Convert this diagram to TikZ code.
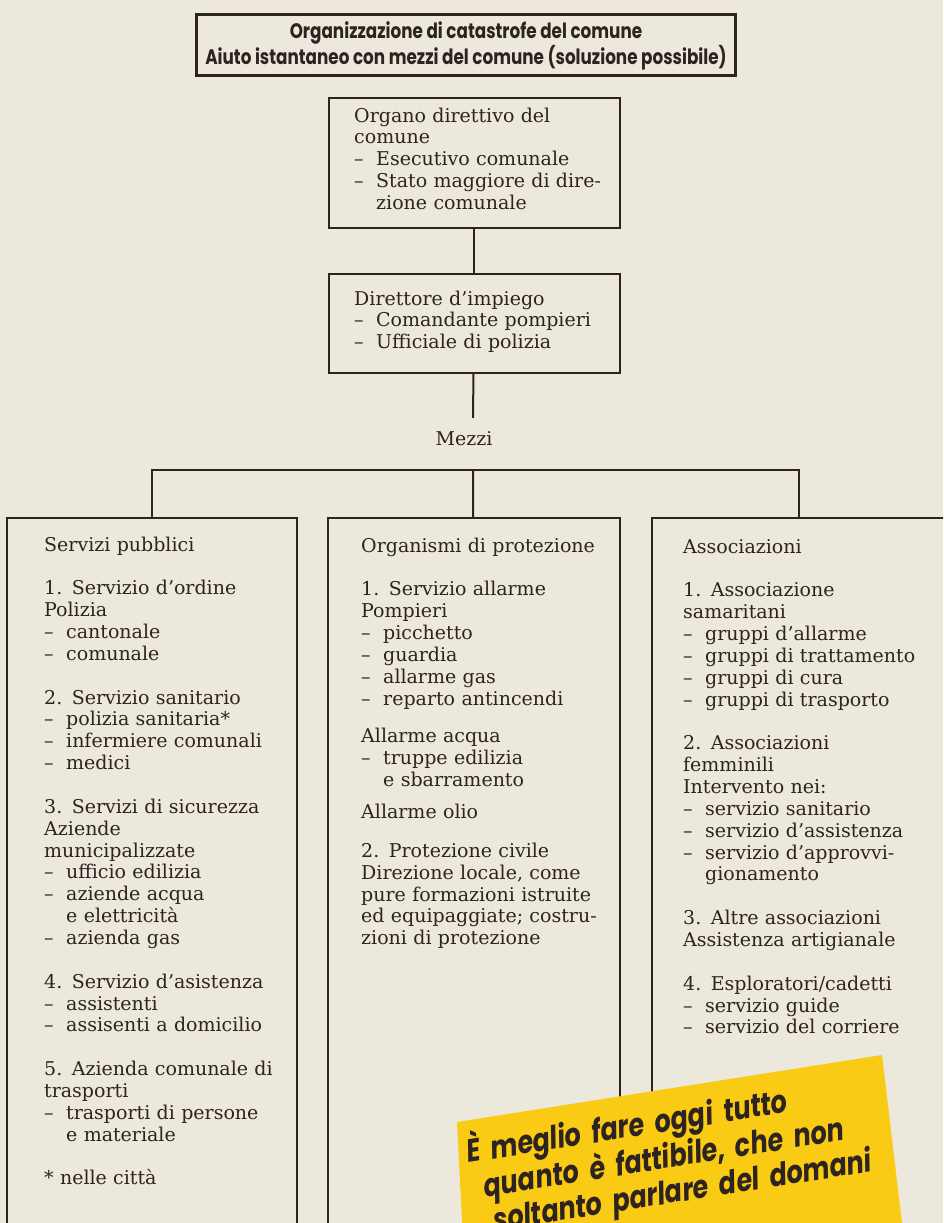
\documentclass[tikz,border=0pt]{standalone}
\usepackage{fontspec}
\setmainfont{DejaVu Serif}
\newfontfamily\titolofont{Poppins}[FakeStretch=0.8]
\newfontfamily\adesivofont{Poppins}[FakeStretch=0.8]
\definecolor{carta}{RGB}{236,232,220}
\definecolor{inchiostro}{RGB}{45,35,32}
\definecolor{giallo}{RGB}{250,203,20}
\newlength\vuoto
\setlength\vuoto{21.86pt}
\newcommand{\trat}{\makebox[22pt][l]{–}}
\newcommand{\rientro}{\hspace*{22pt}}

\begin{document}
\begin{tikzpicture}[x=1pt,y=-1pt,
  riquadro/.style={draw=inchiostro,line width=2pt,inner sep=0pt,anchor=north west},
  testo/.style={text=inchiostro,inner sep=0pt,anchor=base west,text width=280pt,align=left,
    font=\fontsize{19}{21.86}\selectfont},
  linea/.style={draw=inchiostro,line width=2pt},
  adesivo/.style={text=inchiostro,inner sep=0pt,anchor=base west,rotate=9,text width=470pt,align=left,
    font=\adesivofont\bfseries\itshape\fontsize{32}{31.6}\selectfont}]
\fill[carta] (0,0) rectangle (943,1223);
\useasboundingbox (0,0) rectangle (943,1223);
\clip (0,0) rectangle (943,1223);

% titolo
\node[riquadro,line width=3pt,minimum width=539pt,minimum height=61pt] (titolo) at (195,13) {};
\node[text=inchiostro,align=center,font=\titolofont\bfseries\fontsize{21}{22}\selectfont]
  (titolotesto) at ([yshift=-1pt]titolo.center) {Organizzazione di catastrofe del comune\\
  Aiuto istantaneo con mezzi del comune (soluzione possibile)};

% direzione
\node[riquadro,minimum width=291pt,minimum height=130pt] (organo) at (327.5,97) {};
\node[testo] (organotesto) at (354,122) {Organo direttivo del\\
  comune\\
  \trat Esecutivo comunale\\
  \trat Stato maggiore di dire-\\
  \rientro zione comunale};
\node[riquadro,minimum width=291pt,minimum height=99pt] (direttore) at (327.5,273) {};
\node[testo] (direttoretesto) at (354,305) {Direttore d’impiego\\
  \trat Comandante pompieri\\
  \trat Ufficiale di polizia};

\coordinate (finemezzi) at (473,418);
\coordinate (ramo) at (473,470);
\node[text=inchiostro,inner sep=0pt,anchor=base,font=\fontsize{19}{21.86}\selectfont] (mezzi) at (464,445) {Mezzi};

% mezzi
\node[riquadro,minimum width=290pt,minimum height=740pt] (pubblici) at (6,517) {};
\node[riquadro,minimum width=292pt,minimum height=740pt] (protezione) at (327,517) {};
\node[riquadro,minimum width=294pt,minimum height=740pt] (associazioni) at (651,517) {};

\draw[linea] (organo) -- (direttore);
\draw[linea] (direttore) -- (finemezzi);
\draw[linea] (pubblici) |- (ramo) -| (associazioni);
\draw[linea] (ramo) -- (protezione);

\node[testo] (pubblicitesto) at (44,551) {Servizi pubblici\\[\vuoto]
  1. Servizio d’ordine\\
  Polizia\\
  \trat cantonale\\
  \trat comunale\\[\vuoto]
  2. Servizio sanitario\\
  \trat polizia sanitaria*\\
  \trat infermiere comunali\\
  \trat medici\\[\vuoto]
  3. Servizi di sicurezza\\
  Aziende\\
  municipalizzate\\
  \trat ufficio edilizia\\
  \trat aziende acqua\\
  \rientro e elettricità\\
  \trat azienda gas\\[\vuoto]
  4. Servizio d’asistenza\\
  \trat assistenti\\
  \trat assisenti a domicilio\\[\vuoto]
  5. Azienda comunale di\\
  trasporti\\
  \trat trasporti di persone\\
  \rientro e materiale\\[\vuoto]
  * nelle città};

\node[testo] (protezionetesto) at (361,552) {Organismi di protezione\\[\vuoto]
  1. Servizio allarme\\
  Pompieri\\
  \trat picchetto\\
  \trat guardia\\
  \trat allarme gas\\
  \trat reparto antincendi\\[16pt]
  Allarme acqua\\
  \trat truppe edilizia\\
  \rientro e sbarramento\\[10pt]
  Allarme olio\\[17pt]
  2. Protezione civile\\
  Direzione locale, come\\
  pure formazioni istruite\\
  ed equipaggiate; costru-\\
  zioni di protezione};

\node[testo] (associazionitesto) at (683,553) {Associazioni\\[\vuoto]
  1. Associazione\\
  samaritani\\
  \trat gruppi d’allarme\\
  \trat gruppi di trattamento\\
  \trat gruppi di cura\\
  \trat gruppi di trasporto\\[\vuoto]
  2. Associazioni\\
  femminili\\
  Intervento nei:\\
  \trat servizio sanitario\\
  \trat servizio d’assistenza\\
  \trat servizio d’approvvi-\\
  \rientro gionamento\\[\vuoto]
  3. Altre associazioni\\
  Assistenza artigianale\\[\vuoto]
  4. Esploratori/cadetti\\
  \trat servizio guide\\
  \trat servizio del corriere};

% foglietto giallo
\fill[giallo] (457,1122) -- (882,1055) -- (904,1240) -- (463,1240) -- cycle;
\node[adesivo] (motto) at (468,1163) {È meglio fare oggi tutto\\
  \hspace*{12pt}quanto è fattibile, che non\\
  \hspace*{16pt}\makebox[410pt][s]{soltanto parlare del domani}};
\end{tikzpicture}
\end{document}
